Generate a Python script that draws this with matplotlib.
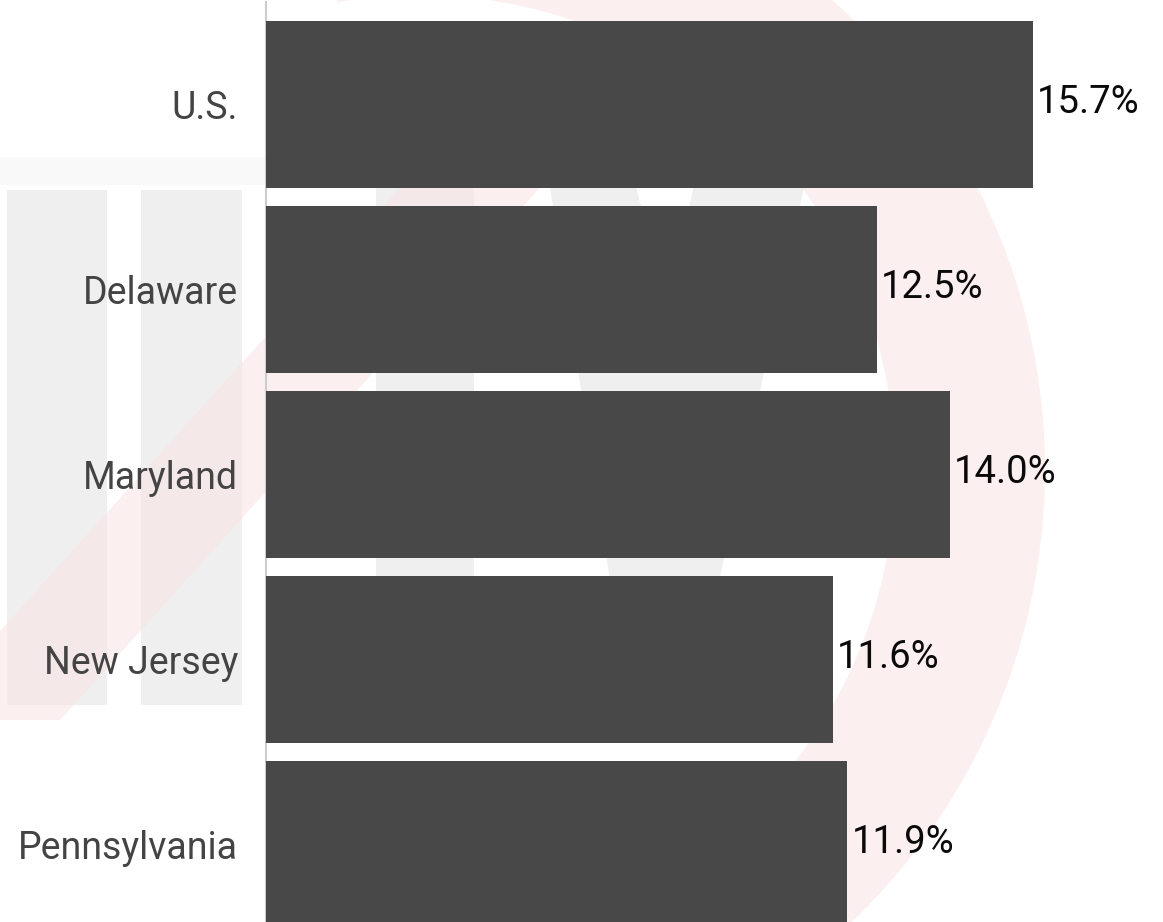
import matplotlib
matplotlib.use("Agg")
import matplotlib.pyplot as plt
from matplotlib.patches import Polygon, Wedge
from matplotlib.transforms import IdentityTransform

categories = ["U.S.", "Delaware", "Maryland", "New Jersey", "Pennsylvania"]
values = [15.7, 12.5, 14.0, 11.6, 11.9]
value_labels = ["15.7%", "12.5%", "14.0%", "11.6%", "11.9%"]

W, H = 1163, 922
DPI = 100
plt.rcParams['font.family'] = ['Roboto', 'DejaVu Sans']

fig = plt.figure(figsize=(W / DPI, H / DPI), dpi=DPI)
fig.patch.set_facecolor("white")

# ---- faint background watermark (pixel coords, origin at top-left) ----
def px(points):
    return [(x, H - y) for x, y in points]

grey = "#ebebeb"
pink = "#fbe3e3"
ident = IdentityTransform()
wm = []
wm.append((Polygon(px([(0, 157), (265, 157), (265, 185), (0, 185)]), closed=True,
                   facecolor="#f5f5f5", edgecolor="none"), 0.6))
wm.append((Polygon(px([(7, 190), (107, 190), (107, 705), (7, 705)]), closed=True,
                   facecolor=grey, edgecolor="none"), 0.8))
wm.append((Polygon(px([(141, 190), (242, 190), (242, 705), (141, 705)]), closed=True,
                   facecolor=grey, edgecolor="none"), 0.8))
wm.append((Polygon(px([(376, 187), (474, 187), (474, 705), (376, 705)]), closed=True,
                   facecolor=grey, edgecolor="none"), 0.8))
wm.append((Polygon(px([(550, 187), (636, 187), (665, 300), (694, 187), (804, 187),
                       (715, 600), (700, 705), (630, 705), (613, 600)]), closed=True,
                   facecolor=grey, edgecolor="none"), 0.8))
# red ring (right part only)
wm.append((Wedge((420, H - 470), 625, -80, 100, width=150,
                 facecolor=pink, edgecolor="none"), 0.55))
# diagonal slash
wm.append((Polygon(px([(470, 110), (610, 110), (60, 720), (-80, 720)]), closed=True,
                   facecolor=pink, edgecolor="none"), 0.55))
for p, a in wm:
    p.set_transform(ident)
    p.set_alpha(a)
    p.set_zorder(-10)
    fig.patches.append(p)

# ---- axes ----
left_px = 266
ax = fig.add_axes([left_px / W, 0, (W - left_px) / W, (H - 2) / H])
ax.patch.set_alpha(0)
px_per_unit = 48.85
ax.set_xlim(0, (W - left_px) / px_per_unit)
ax.set_ylim(4.42, -0.553)

y = list(range(len(categories)))
ax.barh(y, values, height=0.9, color="#484848", zorder=3)

ax.set_yticks(y)
ax.set_yticklabels(categories, fontsize=27, color="#444444")
ax.tick_params(axis="y", length=0, pad=20)
ax.tick_params(axis="x", bottom=False, labelbottom=False)

for s in ["top", "right", "bottom"]:
    ax.spines[s].set_visible(False)
ax.spines["left"].set_color("#cccccc")
ax.spines["left"].set_linewidth(1.5)
ax.spines["left"].set_zorder(2)

for yi, v, lab in zip(y, values, value_labels):
    ax.annotate(lab, xy=(v, yi), xytext=(3, 1), textcoords="offset points",
                ha="left", va="center", fontsize=27.5, color="#0a0a0a")

fig.savefig("out.png", dpi=DPI, facecolor="white")
